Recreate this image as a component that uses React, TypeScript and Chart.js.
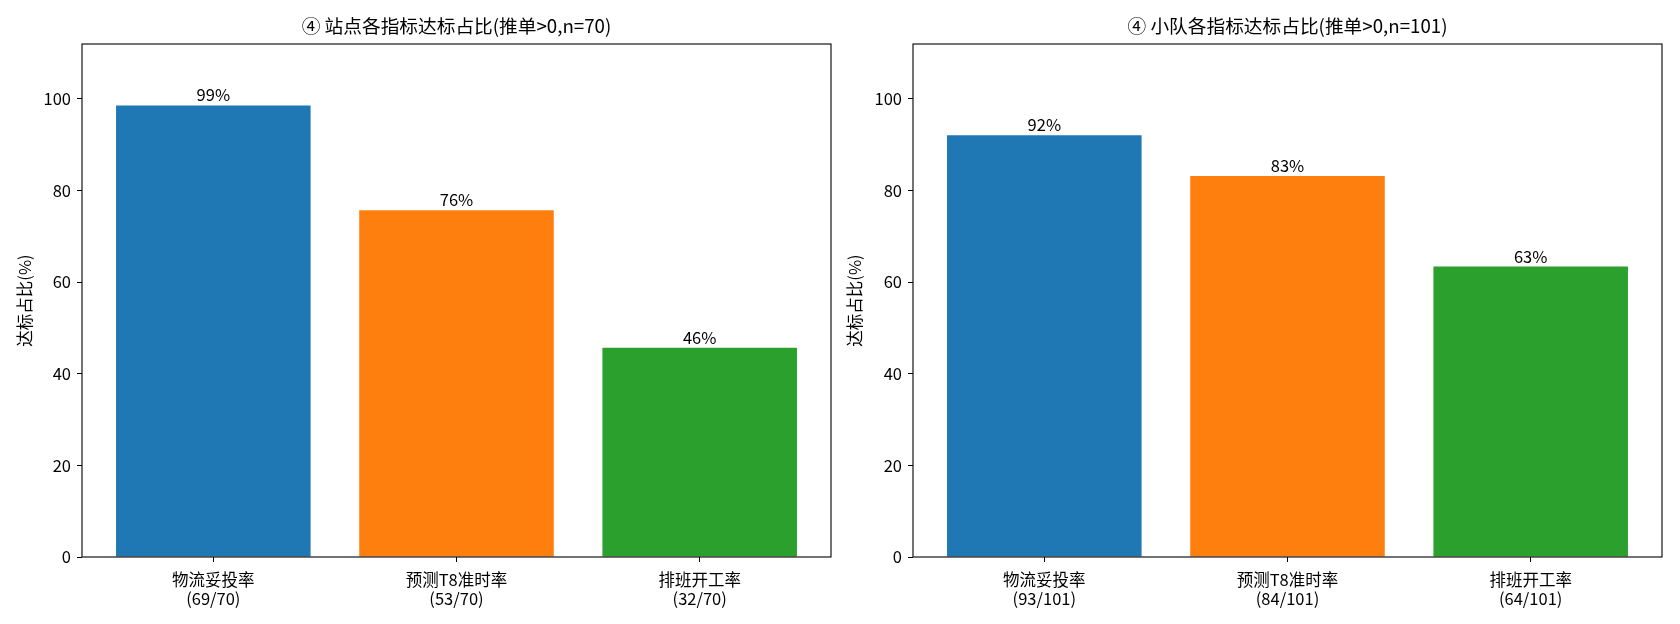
import { useEffect, useRef } from "react";
import { Chart, registerables, type Plugin } from "chart.js";

Chart.register(...registerables);

// ── Data ──────────────────────────────────────────────────────────────────────
const CATEGORIES = ["物流妥投率", "预测T8准时率", "排班开工率"];
const BAR_COLORS = ["#1f77b4", "#ff7f0e", "#2ca02c"];

const SITE_TITLE = "④ 站点各指标达标占比(推单>0,n=70)";
const SITE_HIT = [69, 53, 32];
const SITE_TOTAL = 70;
const SITE_PCT = [98.6, 75.7, 45.7];

const TEAM_TITLE = "④ 小队各指标达标占比(推单>0,n=101)";
const TEAM_HIT = [93, 84, 64];
const TEAM_TOTAL = 101;
const TEAM_PCT = [92.1, 83.2, 63.4];

const Y_LABEL = "达标占比(%)";
const Y_TICKS = [0, 20, 40, 60, 80, 100];
const Y_MAX = 112;
const X_MIN = -0.54;
const X_MAX = 2.54;

const FONT = '"Noto Sans CJK SC", "DejaVu Sans", sans-serif';
const FS = 16.5;       // tick / label size
const FS_TITLE = 18.7; // title size

// ── Frame / title / value labels plugin ───────────────────────────────────────
const decorPlugin: Plugin = {
  id: "decor",
  afterDatasetsDraw(chart, _args, opts: any) {
    const { ctx, chartArea: ca } = chart as any;
    ctx.save();

    // value labels above bars
    const meta = chart.getDatasetMeta(0);
    const pts = chart.data.datasets[0].data as any[];
    ctx.fillStyle = "#000";
    ctx.font = `${FS}px ${FONT}`;
    ctx.textAlign = "center";
    ctx.textBaseline = "alphabetic";
    meta.data.forEach((bar: any, i: number) => {
      ctx.fillText(`${Math.round(pts[i].y)}%`, bar.x, bar.y - 4);
    });

    // four spines
    ctx.strokeStyle = "#000";
    ctx.lineWidth = 1.1;
    ctx.strokeRect(ca.left, ca.top, ca.right - ca.left, ca.bottom - ca.top);

    // title
    ctx.font = `${FS_TITLE}px ${FONT}`;
    ctx.textBaseline = "middle";
    ctx.fillText(opts.title, (ca.left + ca.right) / 2, 26);

    // y-axis label
    ctx.translate(opts.ylabelX, (ca.top + ca.bottom) / 2);
    ctx.rotate(-Math.PI / 2);
    ctx.font = `${FS}px ${FONT}`;
    ctx.fillText(Y_LABEL, 0, 0);

    ctx.restore();
  },
};

interface PanelProps {
  title: string;
  pct: number[];
  hit: number[];
  total: number;
  axisLeft: number;
  padRight: number;
  ylabelX: number;
}

function Panel({ title, pct, hit, total, axisLeft, padRight, ylabelX }: PanelProps) {
  const canvasRef = useRef<HTMLCanvasElement>(null);

  useEffect(() => {
    const canvas = canvasRef.current;
    if (!canvas) return;

    const chart = new Chart(canvas, {
      type: "bar",
      plugins: [decorPlugin],
      data: {
        datasets: [
          {
            data: pct.map((v, i) => ({ x: i, y: v })),
            backgroundColor: BAR_COLORS,
            borderWidth: 0,
            barPercentage: 0.8,
            categoryPercentage: 1,
          },
        ],
      },
      options: {
        responsive: false,
        animation: false,
        layout: { padding: { top: 44, right: padRight, left: 0, bottom: 0 } },
        font: { family: FONT, size: FS },
        plugins: {
          legend: { display: false },
          tooltip: { enabled: false },
          decor: { title, ylabelX },
        } as any,
        scales: {
          x: {
            type: "linear",
            min: X_MIN,
            max: X_MAX,
            bounds: "data",
            offset: false,
            grid: {
              display: true,
              offset: false,
              drawOnChartArea: false,
              drawTicks: true,
              tickLength: 5,
              tickColor: "#000",
              tickWidth: 1,
            },
            border: { display: false },
            afterBuildTicks: (s: any) => {
              s.ticks = CATEGORIES.map((_, i) => ({ value: i }));
            },
            afterFit: (s: any) => {
              s.height = 67;
            },
            ticks: {
              autoSkip: false,
              maxRotation: 0,
              minRotation: 0,
              padding: 8,
              color: "#000",
              font: { family: FONT, size: FS, lineHeight: 1.15 },
              callback: (v: any) => {
                const i = Math.round(Number(v));
                return [CATEGORIES[i], `(${hit[i]}/${total})`];
              },
            },
          },
          y: {
            type: "linear",
            min: 0,
            max: Y_MAX,
            bounds: "data",
            grid: {
              display: true,
              drawOnChartArea: false,
              drawTicks: true,
              tickLength: 5,
              tickColor: "#000",
              tickWidth: 1,
            },
            border: { display: false },
            afterBuildTicks: (s: any) => {
              s.ticks = Y_TICKS.map((v) => ({ value: v }));
            },
            afterFit: (s: any) => {
              s.width = axisLeft;
            },
            ticks: {
              padding: 6,
              color: "#000",
              font: { family: FONT, size: FS },
            },
          },
        },
      } as any,
    });

    return () => chart.destroy();
  }, [title, pct, hit, total, axisLeft, padRight, ylabelX]);

  return <canvas ref={canvasRef} width={840} height={624} style={{ display: "block" }} />;
}

export default function App() {
  return (
    <div
      style={{
        position: "absolute",
        left: 0,
        top: 0,
        width: 1680,
        height: 624,
        background: "#fff",
        display: "flex",
      }}
    >
      <Panel
        title={SITE_TITLE}
        pct={SITE_PCT}
        hit={SITE_HIT}
        total={SITE_TOTAL}
        axisLeft={82}
        padRight={9}
        ylabelX={25}
      />
      <Panel
        title={TEAM_TITLE}
        pct={TEAM_PCT}
        hit={TEAM_HIT}
        total={TEAM_TOTAL}
        axisLeft={73}
        padRight={18}
        ylabelX={15}
      />
    </div>
  );
}
